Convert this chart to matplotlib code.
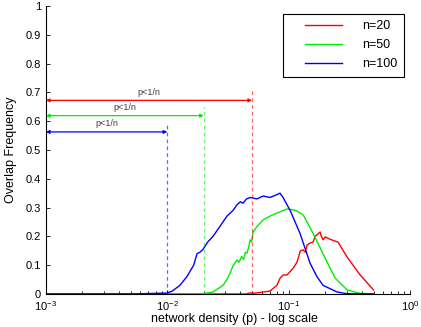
import numpy as np
import matplotlib
matplotlib.use('Agg')
import matplotlib.pyplot as plt
from matplotlib.ticker import LogLocator, NullFormatter
from matplotlib.legend_handler import HandlerLine2D

plt.rcParams['font.family'] = ['Liberation Sans', 'DejaVu Sans']

# Overlap frequency vs network density
p_n20 = [0.001, 0.01, 0.03, 0.045, 0.048, 0.05, 0.055, 0.07, 0.08, 0.085, 0.09, 0.097,
         0.109, 0.117, 0.125, 0.1316, 0.137, 0.142, 0.15, 0.159, 0.165, 0.171, 0.1815,
         0.186, 0.192, 0.1995, 0.219, 0.255, 0.303, 0.388, 0.5]
f_n20 = [0, 0, 0, 0, 0.004, 0.002, 0.004, 0.01, 0.03, 0.055, 0.066, 0.066,
         0.09, 0.11, 0.15, 0.153, 0.145, 0.17, 0.177, 0.18, 0.2, 0.205, 0.215,
         0.2, 0.188, 0.198, 0.19, 0.18, 0.128, 0.066, 0.014]

p_n50 = [0.001, 0.01, 0.0186, 0.021, 0.0238, 0.0265, 0.0288, 0.031, 0.0329, 0.035,
         0.0376, 0.039, 0.041, 0.0425, 0.044, 0.0454, 0.047, 0.0481, 0.0495, 0.0509,
         0.055, 0.0615, 0.07, 0.0802, 0.0971, 0.115, 0.132, 0.159, 0.1995, 0.2415,
         0.303, 0.388, 0.5]
f_n50 = [0, 0, 0, 0.003, 0.007, 0.02, 0.03, 0.05, 0.073, 0.1,
         0.118, 0.11, 0.13, 0.12, 0.145, 0.142, 0.165, 0.188, 0.18, 0.215,
         0.235, 0.257, 0.27, 0.281, 0.295, 0.29, 0.274, 0.21, 0.125, 0.055,
         0.014, 0.002, 0]

p_n100 = [0.001, 0.005, 0.0099, 0.011, 0.0127, 0.0145, 0.0165, 0.0176, 0.0186, 0.0197,
          0.0215, 0.0238, 0.0272, 0.031, 0.0348, 0.0376, 0.04, 0.0421, 0.045, 0.0481,
          0.0548, 0.0615, 0.0703, 0.0802, 0.0849, 0.0899, 0.1028, 0.1241, 0.15, 0.171,
          0.192, 0.25, 0.3, 0.5]
f_n100 = [0, 0, 0.003, 0.01, 0.03, 0.06, 0.1, 0.14, 0.145, 0.155,
          0.18, 0.2, 0.235, 0.27, 0.29, 0.31, 0.32, 0.315, 0.33, 0.335,
          0.33, 0.34, 0.335, 0.345, 0.35, 0.335, 0.29, 0.21, 0.107, 0.06,
          0.03, 0.007, 0.001, 0]

sizes = [20, 50, 100]
colors = ['#ff0000', '#00ee00', '#0000ff']
arrow_y = [0.672, 0.619, 0.5625]
dash_top = [0.708, 0.65, 0.594]


class OffsetLine(HandlerLine2D):
    # legend line drawn only in the right part of the handle box (MATLAB look)
    def get_xdata(self, legend, xdescent, ydescent, width, height, fontsize):
        x0 = -xdescent + 0.3 * width
        x1 = -xdescent + width
        return [x0, x1], [0.5 * (x0 + x1)]


fig = plt.figure(figsize=(4.21, 3.27), dpi=100)
ax = fig.add_axes([0.109, 0.101, 0.865, 0.881])

ax.plot(p_n20, f_n20, color=colors[0], lw=1, label='n=20')
ax.plot(p_n50, f_n50, color=colors[1], lw=1, label='n=50')
ax.plot(p_n100, f_n100, color=colors[2], lw=1, label='n=100')

# threshold lines p = 1/n with arrows
for n, c, ya, yt in zip(sizes, colors, arrow_y, dash_top):
    pc = 1.0 / n
    ax.plot([pc, pc], [0, yt], color=c, lw=0.9, ls=(0, (3, 2.5)), alpha=0.6)
    ax.annotate('', xy=(0.001, ya), xytext=(pc, ya),
                arrowprops=dict(arrowstyle='<|-|>', color=c, lw=0.9,
                                mutation_scale=5, shrinkA=0, shrinkB=0))
    ax.text(np.sqrt(0.001 * pc), ya + 0.012, 'p<1/n', fontsize=6.5,
            color='#404040', ha='center', va='bottom')

ax.set_xscale('log')
ax.set_xlim(1e-3, 1)
ax.set_ylim(0, 1)
ax.set_yticks(np.arange(0, 1.01, 0.1))
ax.set_yticklabels(['0', '0.1', '0.2', '0.3', '0.4', '0.5', '0.6', '0.7', '0.8', '0.9', '1'])
ax.xaxis.set_major_locator(LogLocator(base=10, numticks=10))
ax.xaxis.set_minor_locator(LogLocator(base=10, subs=np.arange(2, 10), numticks=10))
ax.xaxis.set_minor_formatter(NullFormatter())
ax.tick_params(direction='in', labelsize=8, length=3, width=0.6)
ax.tick_params(which='minor', direction='in', length=2, width=0.6)
ax.tick_params(axis='x', pad=4)

for side in ['top', 'right']:
    ax.spines[side].set_visible(False)
for side in ['left', 'bottom']:
    ax.spines[side].set_linewidth(0.8)

ax.set_xlabel('network density (p) - log scale', fontsize=9)
ax.xaxis.set_label_coords(0.518, -0.066)
ax.set_ylabel('Overlap Frequency', fontsize=9, labelpad=6)

leg = ax.legend(loc='upper right', bbox_to_anchor=(404 / 421, 1 - 14 / 327),
                bbox_transform=fig.transFigure, fontsize=9, fancybox=False,
                edgecolor='black', handlelength=4.2, handletextpad=1.68,
                labelspacing=0.56, borderpad=0.5, borderaxespad=0,
                handler_map={plt.Line2D: OffsetLine()})
leg.get_frame().set_linewidth(0.8)
leg.get_frame().set_alpha(1)

fig.savefig('out.png', dpi=100)
